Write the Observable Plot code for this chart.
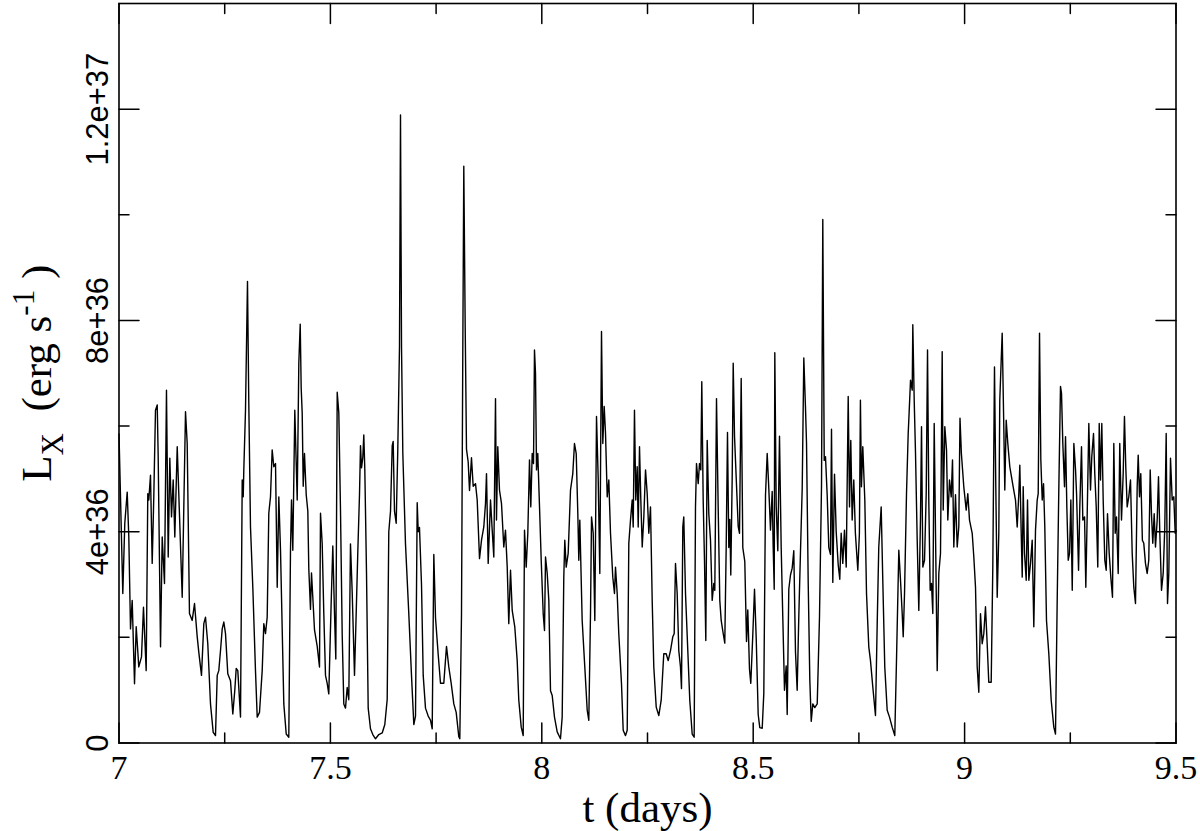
<!DOCTYPE html>
<html>
<head>
<meta charset="utf-8">
<script src="https://cdn.jsdelivr.net/npm/d3@7"></script>
<script src="https://cdn.jsdelivr.net/npm/@observablehq/plot@0.6"></script>
<style>
html, body { margin: 0; padding: 0; background: #ffffff; }
#chart svg { display: block; }
</style>
</head>
<body>
<div id="chart"></div>
<script>
// time in days
const days = [
  7.0000, 7.0090, 7.0137, 7.0194, 7.0232, 7.0272, 7.0312, 7.0367, 7.0407, 7.0468,
  7.0532, 7.0579, 7.0643, 7.0681, 7.0705, 7.0745, 7.0785, 7.0823, 7.0863, 7.0904,
  7.0927, 7.0982, 7.1022, 7.1076, 7.1123, 7.1164, 7.1202, 7.1242, 7.1282, 7.1320,
  7.1377, 7.1414, 7.1495, 7.1573, 7.1613, 7.1667, 7.1731, 7.1786, 7.1850, 7.1887,
  7.1951, 7.2006, 7.2046, 7.2100, 7.2164, 7.2228, 7.2282, 7.2323, 7.2360, 7.2401,
  7.2441, 7.2479, 7.2519, 7.2573, 7.2637, 7.2692, 7.2739, 7.2772, 7.2810, 7.2874,
  7.2914, 7.2938, 7.2952, 7.2992, 7.3039, 7.3070, 7.3110, 7.3165, 7.3228, 7.3269,
  7.3323, 7.3387, 7.3425, 7.3465, 7.3505, 7.3543, 7.3583, 7.3623, 7.3661, 7.3702,
  7.3742, 7.3780, 7.3820, 7.3898, 7.3955, 7.4016, 7.4056, 7.4080, 7.4111, 7.4158,
  7.4215, 7.4253, 7.4286, 7.4309, 7.4333, 7.4357, 7.4387, 7.4428, 7.4466, 7.4489,
  7.4529, 7.4553, 7.4584, 7.4624, 7.4688, 7.4742, 7.4766, 7.4806, 7.4844, 7.4884,
  7.4924, 7.4962, 7.5019, 7.5057, 7.5097, 7.5128, 7.5161, 7.5199, 7.5239, 7.5279,
  7.5317, 7.5357, 7.5397, 7.5435, 7.5475, 7.5516, 7.5570, 7.5610, 7.5648, 7.5688,
  7.5712, 7.5736, 7.5766, 7.5790, 7.5814, 7.5854, 7.5894, 7.5948, 7.6003, 7.6067,
  7.6145, 7.6225, 7.6287, 7.6343, 7.6381, 7.6422, 7.6462, 7.6485, 7.6516, 7.6556,
  7.6594, 7.6634, 7.6658, 7.6682, 7.6713, 7.6776, 7.6854, 7.6918, 7.6973, 7.7013,
  7.7053, 7.7077, 7.7107, 7.7155, 7.7195, 7.7249, 7.7313, 7.7368, 7.7408, 7.7446,
  7.7486, 7.7550, 7.7604, 7.7682, 7.7746, 7.7800, 7.7857, 7.7919, 7.7975, 7.8037,
  7.8061, 7.8101, 7.8132, 7.8155, 7.8188, 7.8219, 7.8259, 7.8290, 7.8337, 7.8377,
  7.8432, 7.8472, 7.8527, 7.8574, 7.8628, 7.8668, 7.8692, 7.8732, 7.8787, 7.8827,
  7.8865, 7.8905, 7.8928, 7.8959, 7.8999, 7.9047, 7.9101, 7.9141, 7.9182, 7.9219,
  7.9260, 7.9300, 7.9361, 7.9418, 7.9456, 7.9513, 7.9560, 7.9591, 7.9631, 7.9669,
  7.9709, 7.9740, 7.9773, 7.9804, 7.9827, 7.9851, 7.9875, 7.9905, 7.9946, 7.9986,
  8.0033, 8.0064, 8.0088, 8.0128, 8.0166, 8.0206, 8.0246, 8.0300, 8.0364, 8.0442,
  8.0482, 8.0520, 8.0544, 8.0577, 8.0624, 8.0679, 8.0733, 8.0773, 8.0814, 8.0852,
  8.0875, 8.0899, 8.0955, 8.1017, 8.1074, 8.1112, 8.1152, 8.1176, 8.1216, 8.1254,
  8.1294, 8.1334, 8.1372, 8.1412, 8.1443, 8.1476, 8.1507, 8.1547, 8.1585, 8.1625,
  8.1679, 8.1719, 8.1743, 8.1783, 8.1821, 8.1885, 8.1925, 8.1980, 8.2020, 8.2058,
  8.2098, 8.2138, 8.2162, 8.2192, 8.2223, 8.2256, 8.2280, 8.2311, 8.2342, 8.2375,
  8.2413, 8.2453, 8.2493, 8.2531, 8.2571, 8.2611, 8.2649, 8.2706, 8.2767, 8.2824,
  8.2885, 8.2942, 8.2989, 8.3044, 8.3098, 8.3131, 8.3162, 8.3202, 8.3240, 8.3280,
  8.3304, 8.3335, 8.3358, 8.3399, 8.3453, 8.3500, 8.3557, 8.3604, 8.3635, 8.3659,
  8.3699, 8.3730, 8.3761, 8.3784, 8.3817, 8.3848, 8.3879, 8.3912, 8.3950, 8.3990,
  8.4030, 8.4068, 8.4092, 8.4132, 8.4172, 8.4210, 8.4243, 8.4281, 8.4328, 8.4361,
  8.4392, 8.4423, 8.4447, 8.4470, 8.4503, 8.4527, 8.4558, 8.4598, 8.4645, 8.4676,
  8.4716, 8.4754, 8.4801, 8.4842, 8.4872, 8.4912, 8.4943, 8.4991, 8.5031, 8.5071,
  8.5118, 8.5156, 8.5213, 8.5251, 8.5291, 8.5331, 8.5369, 8.5409, 8.5449, 8.5473,
  8.5497, 8.5511, 8.5544, 8.5582, 8.5622, 8.5662, 8.5700, 8.5740, 8.5780, 8.5804,
  8.5842, 8.5882, 8.5922, 8.5960, 8.6000, 8.6040, 8.6078, 8.6119, 8.6159, 8.6197,
  8.6237, 8.6261, 8.6301, 8.6339, 8.6372, 8.6410, 8.6457, 8.6514, 8.6568, 8.6616,
  8.6646, 8.6680, 8.6710, 8.6750, 8.6788, 8.6828, 8.6852, 8.6883, 8.6923, 8.6963,
  8.7011, 8.7048, 8.7081, 8.7119, 8.7159, 8.7200, 8.7247, 8.7278, 8.7308, 8.7341,
  8.7379, 8.7417, 8.7474, 8.7512, 8.7536, 8.7560, 8.7592, 8.7640, 8.7680, 8.7734,
  8.7774, 8.7829, 8.7892, 8.7933, 8.7970, 8.8027, 8.8065, 8.8112, 8.8169, 8.8224,
  8.8287, 8.8349, 8.8389, 8.8444, 8.8484, 8.8524, 8.8548, 8.8579, 8.8626, 8.8666,
  8.8680, 8.8721, 8.8761, 8.8775, 8.8808, 8.8839, 8.8879, 8.8917, 8.8957, 8.8981,
  8.9012, 8.9052, 8.9092, 8.9123, 8.9153, 8.9186, 8.9217, 8.9248, 8.9281, 8.9312,
  8.9352, 8.9390, 8.9430, 8.9470, 8.9494, 8.9532, 8.9572, 8.9603, 8.9643, 8.9683,
  8.9714, 8.9745, 8.9785, 8.9825, 8.9863, 8.9891, 8.9924, 8.9981, 9.0038, 9.0076,
  9.0116, 9.0180, 9.0218, 9.0258, 9.0298, 9.0336, 9.0376, 9.0416, 9.0454, 9.0494,
  9.0534, 9.0572, 9.0629, 9.0667, 9.0707, 9.0738, 9.0771, 9.0809, 9.0832, 9.0866,
  9.0889, 9.0927, 9.0951, 9.0984, 9.1022, 9.1069, 9.1109, 9.1149, 9.1204, 9.1244,
  9.1282, 9.1306, 9.1339, 9.1363, 9.1386, 9.1417, 9.1457, 9.1488, 9.1519, 9.1559,
  9.1599, 9.1637, 9.1677, 9.1717, 9.1741, 9.1772, 9.1803, 9.1836, 9.1867, 9.1897,
  9.1937, 9.1992, 9.2048, 9.2110, 9.2150, 9.2190, 9.2228, 9.2268, 9.2292, 9.2323,
  9.2363, 9.2387, 9.2418, 9.2451, 9.2482, 9.2513, 9.2546, 9.2584, 9.2624, 9.2648,
  9.2695, 9.2725, 9.2765, 9.2796, 9.2837, 9.2867, 9.2900, 9.2938, 9.2978, 9.3008,
  9.3049, 9.3079, 9.3113, 9.3150, 9.3184, 9.3214, 9.3245, 9.3278, 9.3316, 9.3349,
  9.3380, 9.3420, 9.3458, 9.3498, 9.3529, 9.3562, 9.3593, 9.3633, 9.3670, 9.3711,
  9.3751, 9.3781, 9.3812, 9.3845, 9.3883, 9.3924, 9.3964, 9.4002, 9.4042, 9.4082,
  9.4106, 9.4137, 9.4167, 9.4205, 9.4238, 9.4278, 9.4318, 9.4356, 9.4390, 9.4420,
  9.4451, 9.4484, 9.4515, 9.4555, 9.4586, 9.4617, 9.4657, 9.4697, 9.4735, 9.4768,
  9.4799, 9.4830, 9.4870, 9.4910, 9.4948, 9.4981, 9.5000
];

// X-ray luminosity, in units of 1e36 erg/s
const lum = [
  5.85, 2.83, 4.16, 4.75, 3.90, 2.16, 2.70, 1.12, 2.20, 1.44,
  1.63, 2.57, 1.37, 4.72, 4.60, 5.07, 3.40, 4.66, 6.30, 6.40,
  5.42, 1.82, 3.90, 3.02, 6.68, 3.52, 5.39, 4.28, 4.98, 3.90,
  5.61, 4.72, 2.76, 6.27, 5.67, 2.45, 2.32, 2.64, 2.01, 1.72,
  1.28, 2.26, 2.38, 1.88, 0.74, 0.20, 0.14, 1.28, 1.37, 1.75,
  2.16, 2.29, 2.07, 1.31, 1.18, 0.55, 1.00, 1.41, 1.37, 0.49,
  4.98, 4.66, 5.17, 6.30, 8.74, 6.43, 4.09, 2.95, 1.37, 0.49,
  0.58, 1.37, 2.26, 2.07, 2.38, 4.35, 4.66, 5.55, 5.23, 5.29,
  2.95, 4.66, 3.65, 0.74, 0.17, 0.11, 3.65, 4.60, 3.65, 6.30,
  4.60, 7.19, 7.93, 6.72, 6.25, 4.86, 5.48, 4.70, 4.39, 3.30,
  2.53, 3.22, 2.76, 2.14, 1.83, 1.44, 4.35, 3.77, 2.45, 1.28,
  1.13, 0.93, 2.68, 3.73, 2.45, 1.59, 6.64, 6.25, 4.39, 2.06,
  0.74, 0.66, 1.05, 0.82, 3.77, 2.84, 1.28, 2.45, 3.61, 4.70,
  5.63, 5.21, 5.40, 5.83, 5.17, 3.22, 0.66, 0.27, 0.16, 0.08,
  0.16, 0.19, 0.35, 0.82, 4.00, 4.39, 5.63, 5.71, 4.39, 4.16,
  5.56, 7.50, 11.89, 7.50, 5.48, 3.77, 2.45, 1.28, 0.35, 0.51,
  4.55, 4.00, 4.08, 2.99, 1.28, 0.66, 0.51, 0.43, 0.27, 3.57,
  2.37, 1.67, 1.13, 1.13, 1.83, 1.44, 1.13, 0.74, 0.58, 0.12,
  0.08, 2.45, 7.50, 10.92, 7.89, 5.56, 5.32, 4.78, 5.40, 4.86,
  4.91, 4.60, 3.49, 3.84, 4.09, 4.53, 5.10, 3.40, 4.60, 4.03,
  3.52, 6.52, 4.22, 5.61, 4.79, 4.53, 3.71, 4.03, 3.33, 2.26,
  3.27, 2.51, 2.20, 1.56, 0.81, 0.30, 0.14, 4.03, 3.33, 3.97,
  5.36, 4.47, 5.48, 5.29, 7.44, 7.00, 5.17, 5.48, 4.47, 3.46,
  2.45, 2.13, 3.52, 3.21, 2.70, 0.99, 0.90, 0.49, 0.21, 0.08,
  0.49, 3.14, 3.84, 3.33, 3.59, 4.79, 5.10, 5.67, 5.48, 4.34,
  3.46, 4.22, 2.32, 1.44, 0.62, 0.43, 2.45, 4.28, 3.97, 2.32,
  6.18, 5.00, 3.21, 7.79, 5.67, 6.37, 5.86, 4.66, 4.98, 3.97,
  3.14, 2.83, 3.33, 2.83, 2.07, 1.12, 0.24, 0.14, 0.24, 3.78,
  4.22, 4.60, 4.09, 6.30, 4.60, 5.23, 4.09, 5.61, 4.60, 3.71,
  4.28, 5.17, 4.72, 3.97, 4.47, 2.70, 1.44, 0.68, 0.52, 0.81,
  1.69, 1.69, 1.56, 1.75, 2.01, 2.07, 3.40, 2.83, 1.75, 1.44,
  1.03, 4.09, 4.28, 2.83, 1.75, 0.81, 0.17, 0.11, 4.47, 5.29,
  4.91, 5.29, 5.17, 6.84, 4.60, 3.46, 1.94, 5.73, 4.34, 3.84,
  2.70, 3.02, 2.89, 6.52, 4.45, 2.70, 2.32, 2.12, 1.89, 3.70,
  5.88, 3.70, 4.23, 3.18, 5.02, 7.19, 5.81, 5.02, 4.10, 3.97,
  6.90, 3.70, 3.44, 1.92, 2.52, 1.40, 1.13, 2.06, 2.91, 1.99,
  0.54, 0.29, 0.28, 0.94, 4.69, 5.48, 4.82, 4.03, 4.76, 3.70,
  2.91, 7.39, 4.49, 3.64, 5.81, 3.70, 2.38, 1.00, 1.46, 0.54,
  2.91, 3.18, 3.31, 3.64, 1.73, 1.00, 2.38, 3.64, 4.82, 7.29,
  6.34, 5.68, 3.04, 1.20, 0.41, 0.74, 0.67, 0.74, 2.38, 4.89,
  9.91, 5.35, 5.42, 4.69, 3.70, 3.57, 5.94, 3.04, 5.09, 4.00,
  3.37, 3.10, 3.97, 3.40, 4.03, 3.33, 6.56, 4.47, 5.73, 4.22,
  4.98, 3.97, 3.27, 3.97, 6.49, 4.85, 5.61, 4.60, 2.83, 1.82,
  1.56, 1.06, 0.52, 2.26, 3.71, 4.47, 3.08, 1.44, 0.62, 0.49,
  0.30, 0.14, 1.56, 3.65, 3.08, 2.45, 2.01, 2.83, 4.72, 5.86,
  6.11, 6.87, 6.68, 7.92, 6.49, 5.48, 3.84, 2.51, 4.28, 5.99,
  3.33, 3.46, 4.72, 7.44, 4.60, 2.89, 3.02, 2.45, 6.05, 3.97,
  1.37, 3.21, 3.59, 7.41, 4.41, 5.99, 5.55, 4.22, 4.98, 4.66,
  5.36, 3.71, 4.70, 3.71, 4.10, 6.15, 5.48, 4.85, 4.41, 4.72,
  4.22, 3.97, 3.52, 2.95, 1.44, 0.96, 2.45, 1.88, 2.07, 2.58,
  1.88, 1.15, 1.15, 3.33, 7.12, 4.85, 2.76, 3.97, 6.49, 7.25,
  7.76, 5.99, 4.79, 6.11, 5.67, 5.23, 5.04, 4.85, 4.60, 4.09,
  4.72, 5.26, 3.97, 3.14, 4.85, 3.59, 3.08, 4.60, 3.08, 3.40,
  3.84, 2.20, 4.03, 4.60, 4.72, 7.76, 5.36, 4.60, 4.91, 4.09,
  2.32, 1.69, 0.81, 0.30, 0.17, 2.70, 4.79, 6.75, 6.62, 5.67,
  4.85, 5.80, 4.47, 3.46, 3.59, 4.60, 2.89, 5.67, 5.17, 4.72,
  3.27, 4.47, 5.61, 4.22, 4.28, 2.95, 4.34, 6.05, 4.79, 5.42,
  5.86, 5.10, 4.47, 3.33, 6.05, 4.98, 6.05, 4.60, 3.46, 3.27,
  4.34, 3.59, 3.14, 2.76, 5.67, 3.97, 4.28, 3.21, 5.67, 4.22,
  5.10, 6.18, 5.23, 4.47, 4.66, 4.98, 3.59, 2.95, 2.64, 4.85,
  5.45, 4.66, 5.10, 3.84, 3.78, 3.40, 3.21, 3.46, 5.17, 4.34,
  3.78, 4.34, 3.71, 4.22, 5.04, 3.97, 2.89, 3.21, 4.09, 5.86,
  2.64, 3.21, 5.39, 4.60, 4.66, 3.97, 4.03
];

const xMajor = [7, 7.5, 8, 8.5, 9, 9.5];
const xMinor = [7.25, 7.75, 8.25, 8.75, 9.25];
const yMajor = [0, 4e36, 8e36, 1.2e37];
const yMajorLabels = ["0", "4e+36", "8e+36", "1.2e+37"];
const yMinor = [2e36, 6e36, 1e37];
const xTitle = "t (days)";
const yTitleParts = ["L", "X", "\u00a0\u00a0(erg s", "-1", "\u00a0)"];

const data = days.map((t, i) => ({t, L: lum[i] * 1e36}));
const yTitleText = yTitleParts.join("");

const tickShape = {
  draw(context, l) { context.moveTo(0, 0); context.lineTo(0, -l); }
};
function ticks(values, channel, anchor, rotate, length) {
  return Plot.vector(values, {
    [channel]: d => d, frameAnchor: anchor, rotate, length,
    anchor: "start", shape: tickShape, stroke: "black", strokeWidth: 1.5
  });
}

const serif = "'Liberation Serif', 'Times New Roman', Times, serif";
const sans = "'Liberation Sans', Arial, Helvetica, sans-serif";

const chart = Plot.plot({
  width: 1200,
  height: 831,
  marginLeft: 118.5,
  marginRight: 24.5,
  marginTop: 3,
  marginBottom: 88.5,
  x: {domain: [7, 9.5], axis: null},
  y: {domain: [0, 1.4e37], axis: null},
  style: {fontFamily: serif, background: "white", color: "black"},
  marks: [
    Plot.line(data, {x: "t", y: "L", stroke: "black", strokeWidth: 1.4}),
    ticks(xMajor, "x", "bottom", 0, 20),
    ticks(xMinor, "x", "bottom", 0, 10),
    ticks(xMajor, "x", "top", 180, 20),
    ticks(xMinor, "x", "top", 180, 10),
    ticks(yMajor, "y", "left", 90, 20),
    ticks(yMinor, "y", "left", 90, 10),
    ticks(yMajor, "y", "right", -90, 20),
    ticks(yMinor, "y", "right", -90, 10),
    Plot.frame({stroke: "black", strokeWidth: 1.6}),
    Plot.text(xMajor, {
      x: d => d, frameAnchor: "bottom", text: d => String(d),
      lineAnchor: "top", textAnchor: "middle", dy: 11.5,
      fontSize: 34, fontFamily: serif, fill: "black"
    }),
    Plot.text(yMajor, {
      y: d => d, frameAnchor: "left", text: (d, i) => yMajorLabels[i],
      rotate: -90, lineAnchor: "bottom", textAnchor: "middle", dx: -11.5,
      fontSize: 31, fontFamily: sans, fill: "black"
    }),
    Plot.text([xTitle], {
      frameAnchor: "bottom", text: d => d, lineAnchor: "bottom",
      textAnchor: "middle", dy: 78.5, fontSize: 43, fontFamily: serif, fill: "black"
    }),
    Plot.text([yTitleText], {
      frameAnchor: "left", text: d => d, rotate: -90, lineAnchor: "bottom",
      textAnchor: "middle", dx: -68.5, fontSize: 43, fontFamily: serif, fill: "black"
    })
  ]
});

// rich formatting (subscript / superscript) for the y-axis title
d3.select(chart).selectAll("text")
  .filter(function() { return this.textContent === yTitleText; })
  .each(function() {
    const t = d3.select(this);
    t.text(null);
    t.append("tspan").text(yTitleParts[0]);
    t.append("tspan").attr("font-size", 31).attr("dy", 12).text(yTitleParts[1]);
    t.append("tspan").attr("dy", -12).text(yTitleParts[2]);
    t.append("tspan").attr("font-size", 31).attr("dy", -17).text(yTitleParts[3]);
    t.append("tspan").attr("dy", 17).text(yTitleParts[4]);
  });

document.getElementById("chart").appendChild(chart);
</script>
</body>
</html>
